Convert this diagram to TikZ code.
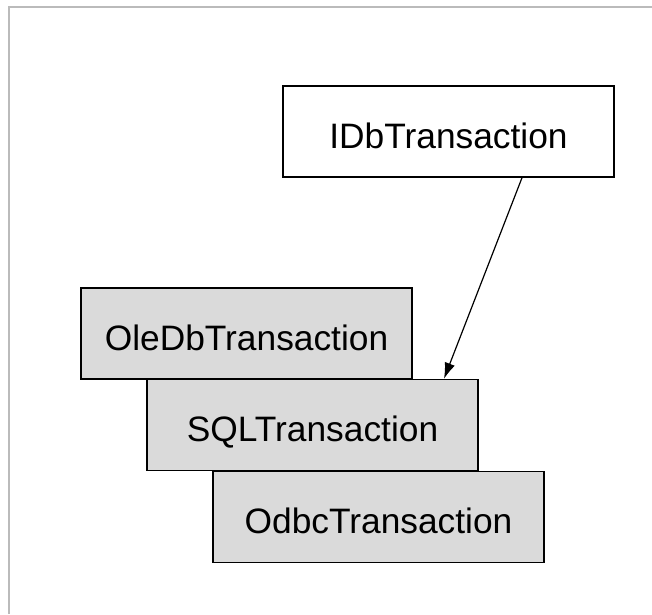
\documentclass[tikz,border=0pt]{standalone}
\usepackage{fontspec}
\setmainfont{Liberation Sans}
\usepackage{xcolor}
\usepackage{tikz}
\definecolor{boxgray}{HTML}{DADADA}
\definecolor{framegray}{HTML}{BBBBBB}
\usetikzlibrary{arrows.meta, positioning, calc}

\begin{document}
\begin{tikzpicture}[
    x=0.75pt, y=-0.75pt,
    every node/.style={font=\fontsize{26.5}{30}\selectfont},
    cls/.style={draw, line width=1.1pt, inner sep=0pt,
                text height=25pt, text depth=0pt,
                minimum width=248.25pt, minimum height=68.25pt},
    clsI/.style={cls, fill=white},
    clsC/.style={cls, fill=boxgray},
]
\useasboundingbox (0,0) rectangle (652,614);

% --- page frame (top and left edge only) ---
\draw[framegray, line width=1.5pt] (9,614) -- (9,7) -- (652,7);

% --- interface ---
\node[clsI] (idb) at (448.5,131.5) {IDbTransaction};

% --- implementing classes, stacked stair-wise ---
\node[clsC] (ole)  at (246.5,333.5) {OleDbTransaction};
\node[clsC] (sql)  at (312.5,425)   {SQLTransaction};
\node[clsC] (odbc) at (378.5,517)   {OdbcTransaction};

% --- realization arrow ---
\draw[-{Latex[length=12pt, width=8pt]}, line width=0.9pt]
    ($(idb.south)+(73.5,0)$) -- ($(sql.north)+(131.5,0)$);
\end{tikzpicture}
\end{document}
